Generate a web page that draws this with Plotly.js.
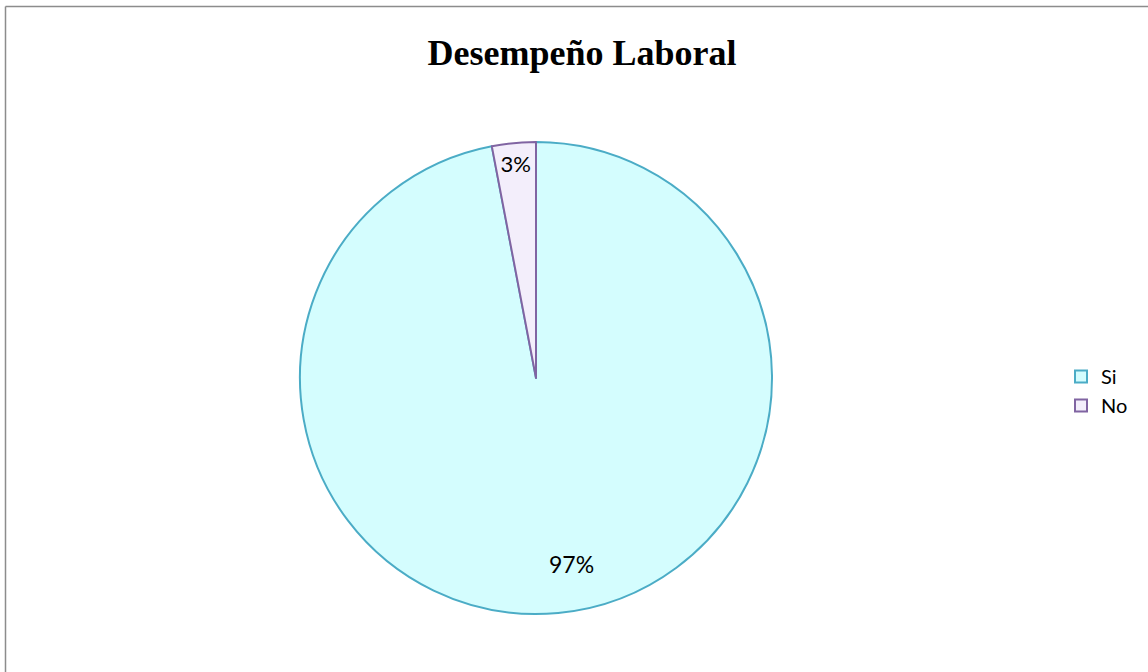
<!DOCTYPE html>
<html>
<head>
<meta charset="utf-8">
<script src="https://cdn.plot.ly/plotly-3.0.1.min.js"></script>
<style>html,body{margin:0;padding:0;background:#fff;overflow:hidden;}#chart{width:1148px;height:672px;}</style>
</head>
<body>
<div id="chart"></div>
<script>
var categories = ["Si", "No"];
var values = [97, 3];
var fillColors = ["#d4fdfe", "#f3eefb"];
var lineColors = ["#4bacc6", "#8064a2"];

var W = 1148, H = 672;
var dom = {x: [300 / W, 772 / W], y: [58 / H, 530 / H]};
var total = values.reduce(function (a, b) { return a + b; }, 0);

var trace = {
  type: "pie",
  labels: categories,
  values: values,
  sort: false,
  direction: "clockwise",
  rotation: 0,
  texttemplate: ["", "%{percent:.0%}"],
  textposition: "inside",
  insidetextorientation: "horizontal",
  textfont: {family: "Lato, 'Open Sans', sans-serif", size: 23, color: "#000"},
  marker: {colors: fillColors, line: {color: lineColors, width: 2}},
  domain: dom,
  hoverinfo: "label+percent"
};

// label for the large slice placed near its mid-angle, further out (like the original)
var cx = (dom.x[0] + dom.x[1]) / 2, cy = (dom.y[0] + dom.y[1]) / 2;
var rx = (dom.x[1] - dom.x[0]) / 2, ry = (dom.y[1] - dom.y[0]) / 2;
var mid = 2 * Math.PI * (values[0] / total) / 2;
var rf = 0.79;
var ann = [{
  xref: "paper", yref: "paper",
  x: cx + rf * rx * Math.sin(mid), y: cy + rf * ry * Math.cos(mid),
  xshift: 18,
  text: Math.round(100 * values[0] / total) + "%",
  showarrow: false,
  font: {family: "Lato, 'Open Sans', sans-serif", size: 23, color: "#000"},
  xanchor: "center", yanchor: "middle"
}];

var bx = 5.5 / W, by = 1 - 6.5 / H;
var layout = {
  width: W, height: H,
  margin: {l: 0, r: 0, t: 0, b: 0},
  paper_bgcolor: "#ffffff",
  title: {
    text: "<b>Desempeño Laboral</b>",
    font: {family: "'Liberation Serif', 'Times New Roman', serif", size: 36, color: "#000"},
    x: 582 / W, xanchor: "center",
    y: 1 - 52 / H, yanchor: "middle", yref: "container"
  },
  showlegend: true,
  legend: {
    x: 1061 / W, xanchor: "left",
    y: 1 - 391 / H, yanchor: "middle",
    font: {family: "Lato, 'Open Sans', sans-serif", size: 20, color: "#000"},
    traceorder: "normal",
    bgcolor: "rgba(0,0,0,0)"
  },
  annotations: ann,
  shapes: [
    {type: "line", xref: "paper", yref: "paper", x0: bx, x1: bx, y0: 0, y1: by,
     line: {color: "#8c8c8c", width: 1.5}},
    {type: "line", xref: "paper", yref: "paper", x0: bx, x1: 1, y0: by, y1: by,
     line: {color: "#8c8c8c", width: 1.5}}
  ]
};

Plotly.newPlot("chart", [trace], layout, {displayModeBar: false, staticPlot: true});
</script>
</body>
</html>
